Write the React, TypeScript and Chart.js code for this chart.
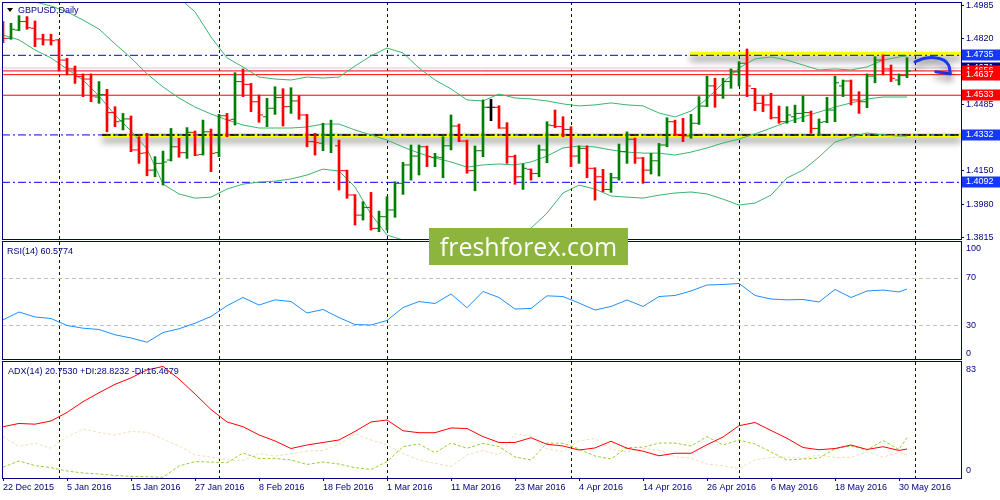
import { useEffect, useRef } from 'react';
import { Chart, registerables } from 'chart.js';

Chart.register(...registerables);

const NAVY = '#000080';
const UP = '#008000';
const DOWN = '#ff0000';
const DOJI = '#000000';
const BAND = '#3cb371';
const LEVEL_BLUE = '#0000ff';
const TAG_BLUE = '#1438ff';
const FONT = '"Liberation Sans", Arial, sans-serif';

// x is the bar number: 0 = 22 Dec 2015 ... 113 = 31 May 2016
const X_MIN = -0.125;
const X_MAX = 119.75;

const dateTickIdx = [0, 8, 16, 24, 32, 40, 48, 56, 64, 72, 80, 88, 96, 104, 112];
const dateTickLabels = [
  '22 Dec 2015', '5 Jan 2016', '15 Jan 2016', '27 Jan 2016', '8 Feb 2016',
  '18 Feb 2016', '1 Mar 2016', '11 Mar 2016', '23 Mar 2016', '4 Apr 2016',
  '14 Apr 2016', '26 Apr 2016', '6 May 2016', '18 May 2016', '30 May 2016',
];
const monthStartIdx = [7, 27, 48, 71, 92, 114];
const priceTicks = [1.4985, 1.482, 1.465, 1.4485, 1.432, 1.415, 1.398, 1.3815];

const opens = [
  1.4894, 1.4821, 1.4863, 1.4906, 1.4872, 1.4818, 1.4813, 1.4813, 1.4711, 1.4666,
  1.4627, 1.4615, 1.4524, 1.4536, 1.4445, 1.4403, 1.4413, 1.4256, 1.4241, 1.4154,
  1.4188, 1.4205, 1.4272, 1.4242, 1.4345, 1.4233, 1.4348, 1.4242, 1.4429, 1.4411,
  1.4602, 1.4588, 1.45, 1.4424, 1.4467, 1.4521, 1.4475, 1.4504, 1.4433, 1.4298,
  1.429, 1.4332, 1.4277, 1.4151, 1.4028, 1.3926, 1.3965, 1.3859, 1.3918, 1.3952,
  1.4087, 1.418, 1.4225, 1.4272, 1.4217, 1.4217, 1.4277, 1.4377, 1.4301, 1.4151,
  1.4252, 1.4472, 1.4472, 1.4367, 1.4222, 1.412, 1.4158, 1.4137, 1.4256, 1.4379,
  1.4374, 1.436, 1.4225, 1.4264, 1.4163, 1.412, 1.4056, 1.4115, 1.4247, 1.431,
  1.4215, 1.4154, 1.4201, 1.4281, 1.4399, 1.4333, 1.4327, 1.4391, 1.4478, 1.458,
  1.4534, 1.4602, 1.4651, 1.4695, 1.4567, 1.4492, 1.4484, 1.4419, 1.4399, 1.4424,
  1.4441, 1.4445, 1.4365, 1.4399, 1.4458, 1.458, 1.4605, 1.4509, 1.45, 1.463,
  1.4711, 1.4666, 1.461, 1.4632,
];
const highs = [
  1.4906, 1.4897, 1.4936, 1.4931, 1.4909, 1.4842, 1.4842, 1.4816, 1.472, 1.4681,
  1.4641, 1.4641, 1.4602, 1.4563, 1.4475, 1.4441, 1.4428, 1.4323, 1.434, 1.4222,
  1.425, 1.4365, 1.4315, 1.4369, 1.4352, 1.4407, 1.4362, 1.4436, 1.4441, 1.4647,
  1.4666, 1.4593, 1.4534, 1.4517, 1.4576, 1.4566, 1.4571, 1.4531, 1.4436, 1.434,
  1.4391, 1.4407, 1.4306, 1.4154, 1.403, 1.3994, 1.4041, 1.3946, 1.4019, 1.4095,
  1.4193, 1.4281, 1.4281, 1.4276, 1.4239, 1.4323, 1.4433, 1.4387, 1.4306, 1.4276,
  1.4509, 1.4512, 1.448, 1.4394, 1.423, 1.4185, 1.416, 1.4281, 1.4399, 1.4458,
  1.4424, 1.4374, 1.4276, 1.4277, 1.4166, 1.4158, 1.4138, 1.4286, 1.4347, 1.4316,
  1.4218, 1.4239, 1.4289, 1.4419, 1.4407, 1.4416, 1.4436, 1.4526, 1.463, 1.4619,
  1.4619, 1.4666, 1.4703, 1.4767, 1.4568, 1.4531, 1.4543, 1.4478, 1.4475, 1.4483,
  1.4529, 1.4453, 1.4413, 1.4522, 1.463, 1.461, 1.461, 1.4551, 1.4641, 1.4728,
  1.4737, 1.4686, 1.4641, 1.4723,
];
const lows = [
  1.4799, 1.4816, 1.486, 1.4867, 1.4779, 1.4787, 1.4787, 1.4656, 1.4636, 1.4593,
  1.4526, 1.45, 1.4492, 1.4348, 1.4374, 1.4357, 1.4247, 1.4188, 1.4125, 1.412,
  1.4078, 1.42, 1.4219, 1.4213, 1.4227, 1.423, 1.4146, 1.4222, 1.4323, 1.4382,
  1.4526, 1.445, 1.4396, 1.4374, 1.4436, 1.4377, 1.4441, 1.4411, 1.4272, 1.423,
  1.4252, 1.4242, 1.4053, 1.4011, 1.3876, 1.3901, 1.385, 1.3842, 1.385, 1.3915,
  1.4031, 1.4103, 1.4129, 1.4171, 1.4171, 1.4115, 1.4256, 1.4298, 1.4138, 1.4049,
  1.4222, 1.4404, 1.4365, 1.4188, 1.4082, 1.4056, 1.4103, 1.412, 1.4191, 1.4369,
  1.4323, 1.4171, 1.4188, 1.4115, 1.4002, 1.4044, 1.4041, 1.4103, 1.4188, 1.4188,
  1.4087, 1.4134, 1.4124, 1.4272, 1.4332, 1.4298, 1.4315, 1.4385, 1.4475, 1.4472,
  1.4517, 1.4568, 1.458, 1.4526, 1.4455, 1.445, 1.4413, 1.4391, 1.4391, 1.4394,
  1.4399, 1.434, 1.4332, 1.4394, 1.4399, 1.4526, 1.4484, 1.4441, 1.447, 1.4596,
  1.4636, 1.4602, 1.4585, 1.4622,
];
const closes = [
  1.4821, 1.4867, 1.4906, 1.4875, 1.4818, 1.4813, 1.4809, 1.4711, 1.4666, 1.4627,
  1.4615, 1.4529, 1.4536, 1.4445, 1.4399, 1.4413, 1.4256, 1.4239, 1.4154, 1.4188,
  1.4195, 1.4272, 1.4242, 1.4345, 1.423, 1.4348, 1.4239, 1.4429, 1.4407, 1.4602,
  1.4588, 1.45, 1.4433, 1.4467, 1.4521, 1.4475, 1.4504, 1.4433, 1.4298, 1.4293,
  1.4332, 1.4335, 1.4151, 1.4028, 1.3926, 1.3965, 1.3859, 1.3918, 1.3952, 1.4087,
  1.418, 1.4225, 1.4272, 1.4222, 1.422, 1.4277, 1.4377, 1.4301, 1.4151, 1.4252,
  1.4472, 1.4472, 1.4367, 1.4222, 1.412, 1.4163, 1.4137, 1.4256, 1.4382, 1.4374,
  1.436, 1.4225, 1.4264, 1.4163, 1.412, 1.4056, 1.4115, 1.4247, 1.431, 1.4215,
  1.4154, 1.4201, 1.4281, 1.4399, 1.4333, 1.4327, 1.4391, 1.4478, 1.458, 1.4534,
  1.4602, 1.4651, 1.4695, 1.458, 1.4492, 1.4484, 1.4419, 1.4399, 1.4433, 1.4441,
  1.4445, 1.4365, 1.4396, 1.4458, 1.4596, 1.4605, 1.4509, 1.45, 1.463, 1.4711,
  1.4666, 1.4619, 1.4632, 1.4656,
];

// indicator lines, read every second bar
const lineIdx = [
  0, 2, 4, 6, 8, 10, 12, 14, 16, 18, 20, 22, 24, 26, 28, 30, 32, 34, 36, 38,
  40, 42, 44, 46, 48, 50, 52, 54, 56, 58, 60, 62, 64, 66, 68, 70, 72, 74, 76, 78,
  80, 82, 84, 86, 88, 90, 92, 94, 96, 98, 100, 102, 104, 106, 108, 110, 112, 113,
];
const bbUpper = [
  1.5243, 1.5243, 1.5238, 1.5228, 1.5218, 1.5203, 1.5183, 1.5157, 1.5127, 1.5091,
  1.5056, 1.5026, 1.4955, 1.4828, 1.4722, 1.4676, 1.4625, 1.4615, 1.461, 1.4625,
  1.462, 1.4625, 1.4681, 1.4732, 1.4772, 1.4747, 1.4671, 1.461, 1.4565, 1.4509,
  1.4504, 1.4539, 1.4519, 1.4514, 1.4504, 1.4489, 1.4479, 1.4484, 1.4494, 1.4484,
  1.4479, 1.4443, 1.4423, 1.4453, 1.4514, 1.4595, 1.4671, 1.4717, 1.4727, 1.4711,
  1.4686, 1.4661, 1.4666, 1.4661, 1.4676, 1.4711, 1.4727, 1.4732,
];
const bbMiddle = [
  1.5051, 1.5026, 1.5005, 1.4985, 1.4955, 1.4914, 1.4868, 1.4793, 1.4722, 1.4641,
  1.4575, 1.4519, 1.4473, 1.4438, 1.4408, 1.4382, 1.4367, 1.4367, 1.4367, 1.4372,
  1.4387, 1.4387, 1.4357, 1.4332, 1.4306, 1.4271, 1.424, 1.4215, 1.4195, 1.4169,
  1.418, 1.4185, 1.418, 1.4195, 1.4225, 1.4266, 1.4276, 1.4271, 1.4256, 1.4245,
  1.424, 1.424, 1.423, 1.4245, 1.4266, 1.4291, 1.4311, 1.4337, 1.4367, 1.4397,
  1.4423, 1.4448, 1.4473, 1.4494, 1.4514, 1.4524, 1.4524, 1.4524,
];
const bbLower = [
  1.4838, 1.4813, 1.4762, 1.4722, 1.4666, 1.461, 1.4529, 1.4433, 1.4352, 1.4261,
  1.4083, 1.4033, 1.4012, 1.4017, 1.4058, 1.4083, 1.4093, 1.4098, 1.4109, 1.4129,
  1.4159, 1.4149, 1.4068, 1.3931, 1.3825, 1.38, 1.3795, 1.379, 1.3784, 1.3784,
  1.379, 1.38, 1.382, 1.386, 1.3936, 1.4038, 1.4078, 1.4058, 1.4023, 1.4017,
  1.4012, 1.4027, 1.4038, 1.4043, 1.4033, 1.4007, 1.3977, 1.3987, 1.4027, 1.4114,
  1.4154, 1.422, 1.4296, 1.4321, 1.4342, 1.4332, 1.4326, 1.4326,
];
const rsi = [
  34.5, 41.1, 36.9, 35.6, 29.7, 27.4, 26.3, 21.8, 19.1, 15.5,
  23.7, 26.9, 31.6, 37.3, 46.4, 53.4, 47.0, 51.4, 50.0, 40.3,
  43.2, 36.4, 30.5, 30.1, 33.9, 44.9, 50.0, 48.3, 56.4, 44.7,
  58.5, 53.4, 43.6, 44.1, 54.8, 54.2, 48.7, 42.8, 45.8, 51.3,
  45.8, 54.2, 55.1, 58.9, 64.0, 64.4, 65.3, 55.1, 52.1, 51.4,
  51.7, 49.6, 60.2, 53.4, 58.9, 59.7, 58.1, 60.58,
];
const adx = [
  36.7, 39.0, 38.5, 40.8, 46.9, 54.6, 61.0, 67.0, 71.6, 77.3,
  79.8, 70.8, 60.1, 49.0, 40.1, 36.7, 30.8, 26.5, 21.1, 23.6,
  25.4, 27.2, 33.3, 40.1, 41.5, 33.8, 32.4, 32.4, 35.8, 35.4,
  29.6, 25.4, 25.4, 28.8, 24.1, 22.9, 20.0, 21.5, 26.3, 21.3,
  19.2, 15.9, 17.7, 17.7, 23.8, 29.3, 37.4, 39.7, 34.0, 28.4,
  21.8, 20.2, 21.1, 23.6, 20.4, 22.4, 19.7, 20.75,
];
const plusDi = [
  7.7, 12.2, 8.9, 7.4, 5.0, 3.6, 2.9, 1.8, 1.2, 0.9,
  0.5, 8.6, 11.7, 11.4, 10.9, 17.9, 14.0, 14.0, 12.9, 9.7,
  11.4, 10.0, 7.4, 6.1, 11.7, 22.4, 24.3, 18.1, 25.0, 21.3,
  24.8, 22.5, 15.0, 12.9, 25.0, 24.8, 20.8, 15.7, 13.6, 21.8,
  22.0, 25.0, 25.0, 22.9, 29.6, 23.6, 27.2, 24.3, 18.6, 12.9,
  13.6, 14.3, 20.8, 22.9, 20.0, 26.8, 20.4, 28.82,
];
const minusDi = [
  29.6, 22.5, 25.0, 21.3, 29.3, 35.1, 32.6, 30.8, 33.3, 32.7,
  27.9, 22.9, 16.5, 15.0, 12.9, 12.5, 17.5, 15.7, 17.2, 19.3,
  19.7, 24.1, 31.5, 27.2, 23.6, 17.5, 12.9, 10.5, 8.2, 16.5,
  19.7, 16.5, 31.5, 29.7, 20.8, 19.0, 26.5, 28.3, 20.8, 18.6,
  21.1, 20.0, 15.2, 14.1, 10.0, 8.6, 6.8, 12.9, 14.7, 15.0,
  14.3, 16.5, 14.7, 14.7, 18.8, 15.0, 18.2, 16.47,
];

const rsiLevels = [70, 30];
const rsiAxisLabels = [100, 70, 30, 0];
const adxAxisLabels = [83, 0];
const rsiTitle = 'RSI(14) 60.5774';
const adxTitle = 'ADX(14) 20.7530 +DI:28.8232 -DI:16.4679';

const askLine = 1.4671;
const redLevels = [1.4656, 1.4637, 1.4533];
const blueLevels = [1.4735, 1.4332, 1.4092];
const yellowStart = [85.9, 12.4];
const yellowPrice = [1.4743, 1.4332];
const arrowX = [114, 115.2, 116.5, 117.6, 118.2, 118.4];
const arrowY = [1.4702, 1.472, 1.4723, 1.4711, 1.4685, 1.4642];
const barbX = [116.6, 118.4];
const barbY = [1.4652, 1.4642];

const priceTags = [
  { value: 1.4671, color: NAVY },
  { value: 1.4656, color: DOWN },
  { value: 1.4637, color: DOWN },
  { value: 1.4533, color: DOWN },
  { value: 1.4735, color: TAG_BLUE },
  { value: 1.4332, color: TAG_BLUE },
  { value: 1.4092, color: TAG_BLUE },
];

function pts(xs: number[], ys: number[]) {
  return xs.map((x, i) => ({ x, y: ys[i] }));
}
function flat(y: number, from = X_MIN, to = X_MAX) {
  return [{ x: from, y }, { x: to, y }];
}

const barColors = closes.map((c, i) => (c > opens[i] ? UP : c < opens[i] ? DOWN : DOJI));

// each dataset is clipped to its own y axis by Chart.js
const priceLine = {
  type: 'line',
  pointRadius: 0,
  pointHoverRadius: 0,
  borderWidth: 1,
  tension: 0,
  fill: false,
  yAxisID: 'yPrice',
};

const mt4Shadow = {
  id: 'mt4Shadow',
  beforeDatasetDraw(chart: any, args: any) {
    const ds = chart.data.datasets[args.index];
    if (!ds.shadow) return;
    const ctx = chart.ctx;
    ctx.save();
    ctx.shadowColor = 'rgba(0,0,0,0.5)';
    ctx.shadowBlur = 7;
    ctx.shadowOffsetY = 5;
  },
  afterDatasetDraw(chart: any, args: any) {
    if (chart.data.datasets[args.index].shadow) chart.ctx.restore();
  },
};

const mt4Decor = {
  id: 'mt4Decor',
  beforeDatasetsDraw(chart: any) {
    const { ctx, chartArea } = chart;
    const x = chart.scales.x;
    const yR = chart.scales.yRsi;
    ctx.save();
    ctx.lineWidth = 1;
    ctx.strokeStyle = NAVY;
    ctx.setLineDash([3, 3]);
    monthStartIdx.forEach((i) => {
      const px = Math.round(x.getPixelForValue(i)) + 0.5;
      ctx.beginPath();
      ctx.moveTo(px, chartArea.top);
      ctx.lineTo(px, chartArea.bottom);
      ctx.stroke();
    });
    ctx.strokeStyle = '#c0c0c0';
    ctx.setLineDash([4, 3]);
    rsiLevels.forEach((v) => {
      const py = Math.round(yR.getPixelForValue(v)) + 0.5;
      ctx.beginPath();
      ctx.moveTo(chartArea.left, py);
      ctx.lineTo(chartArea.right, py);
      ctx.stroke();
    });
    ctx.restore();
  },
  afterDraw(chart: any) {
    const { ctx, chartArea } = chart;
    const { left, right } = chartArea;
    const yP = chart.scales.yPrice;
    const yR = chart.scales.yRsi;
    const yA = chart.scales.yAdx;
    ctx.save();

    // pane frames
    ctx.strokeStyle = NAVY;
    ctx.lineWidth = 1;
    ctx.setLineDash([]);
    const frame = (top: number, bottom: number) =>
      ctx.strokeRect(left + 0.5, top, right - left, bottom - top);
    frame(yP.top + 0.5, yP.bottom - 0.5);
    frame(yR.top + 1.5, yR.bottom - 1.5);
    frame(yA.top + 0.5, yA.bottom + 0.5);

    ctx.font = `9px ${FONT}`;
    ctx.textBaseline = 'middle';
    ctx.textAlign = 'left';

    // indicator pane scales, kept inside their panes like MT4 does
    ctx.fillStyle = NAVY;
    const paneLabels = (scale: any, values: number[]) =>
      values.forEach((v) => {
        const py = Math.min(Math.max(scale.getPixelForValue(v), scale.top + 8.5), scale.bottom - 7);
        ctx.fillText(String(v), right + 5, py);
      });
    paneLabels(yR, rsiAxisLabels);
    paneLabels(yA, adxAxisLabels);

    // titles
    ctx.fillText('GBPUSD,Daily', left + 16, yP.top + 8.5);
    ctx.fillText(rsiTitle, left + 5, yR.top + 12);
    ctx.fillText(adxTitle, left + 6, yA.top + 11);
    ctx.fillStyle = '#000000';
    ctx.beginPath();
    ctx.moveTo(left + 5, yP.top + 6);
    ctx.lineTo(left + 11, yP.top + 6);
    ctx.lineTo(left + 8, yP.top + 10);
    ctx.closePath();
    ctx.fill();

    // price tags on the axis
    priceTags.forEach((t) => {
      const py = Math.round(yP.getPixelForValue(t.value));
      ctx.fillStyle = t.color;
      ctx.fillRect(right + 1, py - 5.5, chart.width - right - 1, 11);
      ctx.fillStyle = '#ffffff';
      ctx.fillText(t.value.toFixed(4), right + 5, py);
    });

    // watermark
    ctx.fillStyle = '#8db43c';
    ctx.fillRect(429, 228, 199, 37);
    ctx.fillStyle = '#ffffff';
    ctx.font = `25px "Open Sans", ${FONT}`;
    ctx.textAlign = 'center';
    ctx.textBaseline = 'alphabetic';
    ctx.fillText('freshforex.com', 528.5, 256);
    ctx.restore();
  },
};

export default function App() {
  const canvasRef = useRef<HTMLCanvasElement>(null);

  useEffect(() => {
    if (!canvasRef.current) return;
    const font = { family: FONT, size: 9 };
    const chart = new Chart(canvasRef.current, {
      type: 'bar',
      data: {
        datasets: [
          // horizontal levels
          { ...priceLine, data: flat(askLine), borderColor: '#d0d0d0', order: 20 },
          ...redLevels.map((v) => ({ ...priceLine, data: flat(v), borderColor: DOWN, order: 20 })),
          ...yellowPrice.map((v, i) => ({
            ...priceLine,
            data: flat(v, yellowStart[i]),
            borderColor: '#ffff00',
            borderWidth: 4,
            shadow: true,
            order: 15,
          })),
          ...blueLevels.map((v) => ({
            ...priceLine,
            data: flat(v),
            borderColor: LEVEL_BLUE,
            borderDash: [8, 3, 2, 3],
            order: 13,
          })),
          {
            ...priceLine,
            data: flat(yellowPrice[1], yellowStart[1]),
            borderColor: '#000000',
            borderWidth: 1.5,
            borderDash: [8, 3, 2, 3],
            order: 12,
          },
          // Bollinger bands
          { ...priceLine, data: pts(lineIdx, bbUpper), borderColor: BAND, order: 8 },
          { ...priceLine, data: pts(lineIdx, bbMiddle), borderColor: BAND, order: 8 },
          { ...priceLine, data: pts(lineIdx, bbLower), borderColor: BAND, order: 8 },
          // OHLC bars
          {
            type: 'bar',
            data: highs.map((h, i) => ({ x: i, y: [lows[i], h] })),
            backgroundColor: barColors,
            borderWidth: 0,
            barThickness: 2,
            grouped: false,
            yAxisID: 'yPrice',
            order: 3,
          },
          {
            ...priceLine,
            showLine: false,
            data: opens.map((o, i) => ({ x: i - 0.3125, y: o })),
            pointStyle: 'line',
            pointRadius: 1.5,
            pointBorderWidth: 1,
            pointBorderColor: barColors,
            pointBackgroundColor: barColors,
            order: 2,
          },
          {
            ...priceLine,
            showLine: false,
            data: closes.map((c, i) => ({ x: i + 0.3125, y: c })),
            pointStyle: 'line',
            pointRadius: 1.5,
            pointBorderWidth: 1,
            pointBorderColor: barColors,
            pointBackgroundColor: barColors,
            order: 2,
          },
          // hand-drawn arrow
          {
            ...priceLine,
            data: pts(arrowX, arrowY),
            borderColor: '#1a3ae8',
            borderWidth: 3,
            tension: 0.4,
            borderCapStyle: 'round',
            shadow: true,
            order: 0,
          },
          {
            ...priceLine,
            data: pts(barbX, barbY),
            borderColor: '#1a3ae8',
            borderWidth: 3,
            borderCapStyle: 'round',
            shadow: true,
            order: 0,
          },
          // RSI
          {
            type: 'line',
            data: pts(lineIdx, rsi),
            borderColor: '#1e90ff',
            borderWidth: 1,
            pointRadius: 0,
            tension: 0,
            yAxisID: 'yRsi',
            order: 5,
          },
          // ADX, +DI, -DI
          {
            type: 'line',
            data: pts(lineIdx, minusDi),
            borderColor: '#f5deb3',
            borderWidth: 1,
            borderDash: [3, 2],
            pointRadius: 0,
            tension: 0,
            yAxisID: 'yAdx',
            order: 6,
          },
          {
            type: 'line',
            data: pts(lineIdx, plusDi),
            borderColor: '#9acd32',
            borderWidth: 1,
            borderDash: [3, 2],
            pointRadius: 0,
            tension: 0,
            yAxisID: 'yAdx',
            order: 5,
          },
          {
            type: 'line',
            data: pts(lineIdx, adx),
            borderColor: '#ff0000',
            borderWidth: 1,
            pointRadius: 0,
            tension: 0,
            yAxisID: 'yAdx',
            order: 4,
          },
        ] as any,
      },
      options: {
        animation: false,
        responsive: true,
        maintainAspectRatio: false,
        devicePixelRatio: 1,
        events: [],
        layout: { autoPadding: false, padding: { top: 2, left: 2, right: 0, bottom: 0 } },
        plugins: {
          legend: { display: false },
          tooltip: { enabled: false },
        },
        scales: {
          x: {
            type: 'linear',
            position: 'bottom',
            offset: false,
            min: X_MIN,
            max: X_MAX,
            afterBuildTicks: (s: any) => {
              s.ticks = dateTickIdx.map((v) => ({ value: v }));
            },
            afterFit: (s: any) => {
              s.height = 22;
              s.paddingLeft = 0;
              s.paddingRight = 0;
            },
            grid: { drawOnChartArea: false, offset: false, tickLength: 3, color: NAVY },
            border: { display: false },
            ticks: {
              autoSkip: false,
              maxRotation: 0,
              minRotation: 0,
              align: 'start',
              padding: 1,
              color: NAVY,
              font,
              callback: (_v: any, i: number) => dateTickLabels[i],
            },
          },
          yPrice: {
            type: 'linear',
            position: 'right',
            stack: 'panes',
            stackWeight: 238,
            min: 1.38,
            max: 1.5005,
            afterBuildTicks: (s: any) => {
              s.ticks = priceTicks.map((v) => ({ value: v }));
            },
            afterFit: (s: any) => {
              s.width = 39;
              s.paddingTop = 0;
              s.paddingBottom = 0;
            },
            grid: { drawOnChartArea: false, tickLength: 3, color: NAVY },
            border: { display: false },
            ticks: {
              padding: 2,
              color: NAVY,
              font,
              callback: (v: any) => Number(v).toFixed(4),
            },
          },
          yRsi: {
            type: 'linear',
            position: 'right',
            stack: 'panes',
            stackWeight: 121,
            min: -0.4,
            max: 102.1,
            afterFit: (s: any) => {
              s.width = 39;
              s.paddingTop = 0;
              s.paddingBottom = 0;
            },
            grid: { display: false },
            border: { display: false },
            ticks: { display: false },
          },
          yAdx: {
            type: 'linear',
            position: 'right',
            stack: 'panes',
            stackWeight: 117,
            min: 0,
            max: 83.7,
            afterFit: (s: any) => {
              s.width = 39;
              s.paddingTop = 0;
              s.paddingBottom = 0;
            },
            grid: { display: false },
            border: { display: false },
            ticks: { display: false },
          },
        },
      } as any,
      plugins: [mt4Shadow, mt4Decor],
    });
    return () => chart.destroy();
  }, []);

  return (
    <div
      style={{
        position: 'fixed',
        left: 0,
        top: 0,
        width: 1000,
        height: 500,
        background: '#ffffff',
      }}
    >
      <canvas ref={canvasRef} />
    </div>
  );
}
